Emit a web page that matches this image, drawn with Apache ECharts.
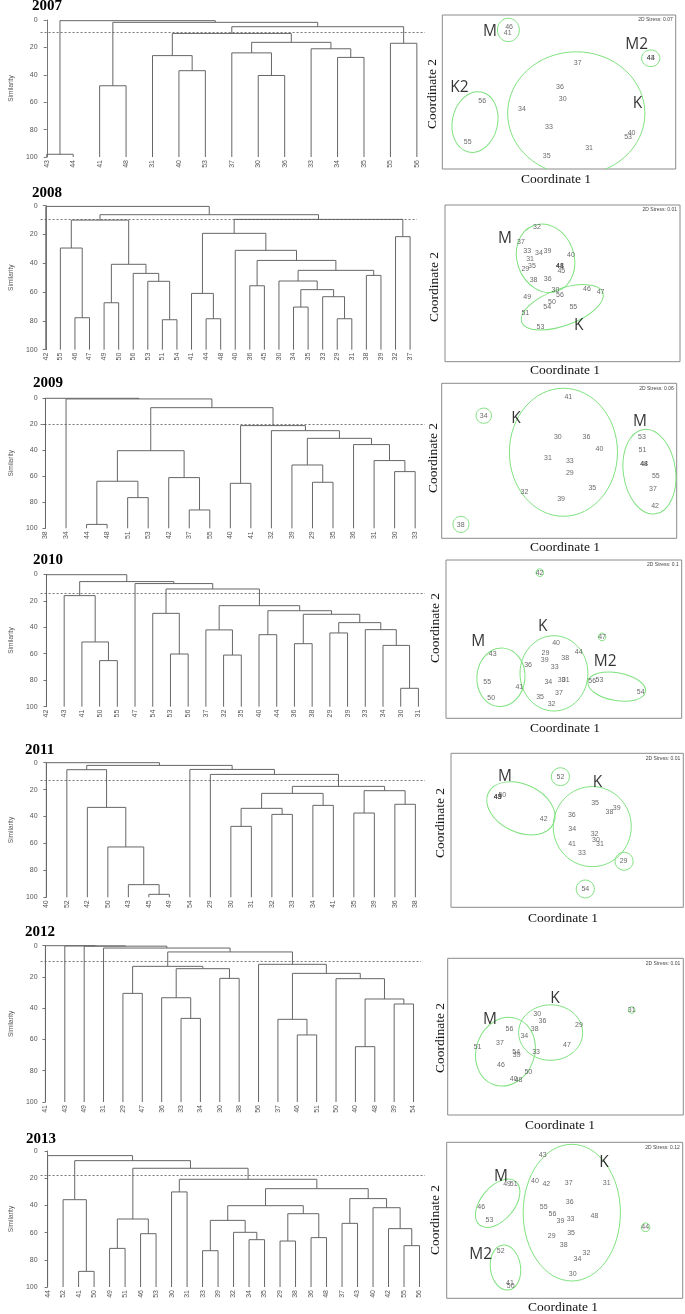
<!DOCTYPE html>
<html><head><meta charset="utf-8">
<script src="https://cdn.jsdelivr.net/npm/echarts@6/dist/echarts.min.js"></script>
<style>html,body{margin:0;padding:0;background:#fff}#c{width:685px;height:1314px}</style>
</head><body><div id="c"></div>
<script>
// ================= DATA =================
const years = ['2007','2008','2009','2010','2011','2012','2013'];
const stressValues = ['0.07','0.01','0.06','0.1','0.01','0.01','0.12'];

// Dendrograms: merges = [childA, childB, similarity]; string = leaf, number = earlier merge index
const leaves2007 = ['43','44','41','48','31','40','53','37','30','36','33','34','35','55','56'];
const merges2007 = [['43','44',98],['41','48',48],['40','53',37],['31',2,26],['30','36',40.5],['37',4,24],['34','35',27.3],['33',6,21],[5,7,16.3],[3,8,9.8],['55','56',17],[9,10,4.9],[1,11,1.7],[0,12,0.5]];
const cut2007 = 9;

const leaves2008 = ['42','55','46','47','49','50','56','53','51','54','41','44','48','40','36','45','30','34','35','33','29','31','38','39','32','37'];
const merges2008 = [['46','47',77.8],['55',0,29.4],['49','50',67.4],['51','54',79.2],['53',3,52.5],['56',4,47],[2,5,40.7],[1,6,10],['44','48',78.5],['41',8,60.9],['36','45',55.6],['29','31',78.5],['33',11,63.2],['34','35',70.4],[13,12,58.3],['30',14,52.3],['38','39',48.4],[15,16,44.9],[10,17,38],['40',18,31],[9,19,19.2],['32','37',21.5],[20,21,9.5],[7,22,6.25],['42',23,0.5]];
const cut2008 = 9.5;

const leaves2009 = ['38','34','44','48','51','53','42','37','55','40','41','32','39','29','35','36','31','30','33'];
const merges2009 = [['44','48',97],['51','53',76.4],[0,1,63.8],['37','55',85.9],['42',3,61],[2,4,40.3],['40','41',65.4],['29','35',64.6],['39',7,51.3],['30','33',56.4],['31',9,47.9],['36',10,35.6],[8,11,30.8],['32',12,24.9],[6,13,21],[5,14,7.2],['34',15,0.5],['38',16,0]];
const cut2009 = 20;

const leaves2010 = ['42','43','41','50','55','47','54','53','56','37','32','35','40','44','36','38','29','39','33','34','30','31'];
const merges2010 = [['50','55',65.2],['41',0,51.1],['43',1,16.1],['53','56',60.2],['54',3,29.5],['32','35',61],['37',5,42],['40','44',45.6],['36','38',52.4],['29','39',44.3],['30','31',86.1],['34',10,53.7],['33',11,41.8],[9,12,36.5],[8,13,30.2],[7,14,27.5],[6,15,23.7],[4,16,11.1],['47',17,7],[2,18,5.5],['42',19,0.3]];
const cut2010 = 14.4;

const leaves2011 = ['40','52','42','50','43','45','49','54','29','30','31','32','33','34','41','35','39','36','38'];
const merges2011 = [['45','49',97.8],['43',0,90.6],['50',1,62.6],['42',2,33.2],['52',3,5.2],['30','31',47.3],['32','33',38.4],[5,6,33.9],['34','41',31.7],[7,8,22.8],['35','39',37.4],['36','38',30.9],[10,11,20.8],[9,12,17.6],['29',13,8.7],['54',14,5],[4,15,2],['40',16,0]];
const cut2011 = 12.9;

const leaves2012 = ['41','43','49','31','29','47','36','33','34','30','38','56','37','46','51','50','40','48','39','54'];
const merges2012 = [['29','47',30.5],['33','34',46.5],['36',1,33.3],['30','38',20.9],[2,3,14.7],[0,4,13.2],['46','51',57.1],['37',6,47.1],['40','48',64.6],['39','54',37.3],[8,9,34.1],['50',10,21.1],[7,11,17.7],['56',12,11.9],[5,13,4],['31',14,1.5],['49',15,0.3],['43',16,0.15],['41',17,0]];
const cut2012 = 10.2;

const leaves2013 = ['44','52','41','50','49','51','46','53','30','31','33','39','32','34','35','29','38','36','48','37','43','40','42','55','56'];
const merges2013 = [['41','50',88.5],['52',0,35.8],['49','51',71.6],['46','53',60.8],[2,3,50],['30','31',30.1],['33','39',73.3],['34','35',65.2],['32',7,59.8],[6,8,51],['29','38',66.2],['36','48',63.7],[10,11,46.1],[9,12,40.2],['37','43',53.2],['55','56',69.6],['42',15,57.1],['40',16,41.7],[14,17,35],[13,18,27.7],[5,19,20.8],[4,20,12.7],[1,21,7.1],['44',22,3.4]];
const cut2013 = 18;

// NMDS ordinations: [label, coord1, coord2]
const points2007 = [['46',28.6,92.0],['41',28.0,88.3],['43',89.3,72.3],['44',89.3,72.3],['37',58.0,68.6],['36',50.4,53.0],['30',51.6,45.2],['34',34.1,38.7],['56',17.1,43.9],['55',10.9,17.3],['33',45.7,27.3],['40',81.1,23.2],['53',79.6,20.8],['31',62.9,13.9],['35',44.7,8.4]];
const points2008 = [['32',39.1,86.0],['37',32.3,76.6],['33',35.0,70.6],['34',40.0,69.1],['39',43.6,70.9],['40',53.6,68.3],['31',36.2,65.5],['35',37.0,61.3],['29',34.2,58.9],['41',48.9,61.3],['44',48.9,61.3],['48',48.9,61.3],['45',49.5,57.7],['38',37.7,52.0],['36',43.7,52.8],['30',47.0,45.9],['56',48.9,42.8],['46',60.4,46.4],['47',66.2,44.5],['49',35.0,41.1],['50',45.5,37.9],['54',43.5,34.9],['55',54.6,34.9],['51',34.2,31.3],['53',40.6,21.9]];
const points2009 = [['41',53.9,91.4],['34',17.9,79.1],['30',49.4,65.4],['36',61.6,65.6],['40',67.1,57.4],['31',45.2,52.0],['33',54.5,49.9],['29',54.5,42.4],['35',64.1,32.7],['32',35.2,30.1],['39',50.8,25.4],['38',8.1,8.8],['53',85.2,65.6],['51',85.4,57.2],['44',86.1,47.7],['48',86.1,47.7],['55',91.1,40.2],['37',89.9,31.6],['42',90.8,21.1]];
const points2010 = [['42',39.7,92.0],['47',66.2,51.4],['40',46.7,47.8],['44',56.3,42.1],['29',42.2,41.5],['39',41.9,36.6],['38',50.6,38.3],['33',46.1,32.6],['43',19.8,40.8],['36',34.8,33.7],['55',17.5,22.7],['41',31.1,19.8],['34',43.4,22.9],['30',49.1,24.0],['31',50.8,24.0],['56',62.0,23.4],['53',65.1,24.0],['54',82.6,16.8],['37',47.9,16.2],['35',39.9,13.3],['50',19.2,13.1],['32',44.8,8.8]];
const points2011 = [['43',20.1,71.4],['45',20.1,71.4],['49',20.1,71.4],['50',22.1,72.9],['42',39.9,57.4],['52',47.1,84.8],['35',62.0,67.5],['38',68.2,61.9],['39',71.3,64.3],['36',52.0,60.2],['34',52.2,51.1],['32',61.8,47.8],['30',62.4,43.7],['31',64.1,41.1],['41',52.1,41.3],['33',56.4,35.1],['29',74.3,29.8],['54',57.8,11.9]];
const points2012 = [['30',38.0,64.7],['36',40.2,60.0],['29',55.7,57.4],['38',36.9,54.7],['56',26.2,55.1],['34',32.5,50.6],['37',22.2,46.2],['51',12.7,43.4],['47',50.6,44.9],['54',29.1,40.4],['39',29.3,38.3],['33',37.5,40.4],['46',22.6,31.9],['50',34.2,27.2],['40',28.0,23.2],['48',30.0,22.6],['31',78.1,67.0]];
const points2013 = [['43',40.7,91.5],['40',37.4,75.2],['42',42.2,73.3],['37',51.7,74.1],['31',67.8,73.7],['49',25.6,73.5],['51',28.4,73.5],['46',14.6,58.5],['53',18.1,50.2],['36',52.1,61.5],['55',41.1,58.8],['56',44.8,53.8],['39',48.2,49.4],['33',52.5,50.9],['48',62.6,52.4],['44',84.1,45.5],['29',44.5,40.0],['35',52.7,42.1],['38',49.6,34.2],['52',22.9,30.5],['32',59.2,28.8],['34',55.4,25.0],['30',53.4,15.4],['41',26.8,9.6],['50',27.1,8.1]];

// Group labels: [name, coord1, coord2]
const groups2007 = [['M',20.4,89.2],['M2',83.3,80.5],['K2',7.3,53.0],['K',83.6,42.6]];
const groups2008 = [['M',25.5,78.3],['K',56.9,23.0]];
const groups2009 = [['K',31.6,77.0],['M',84.4,75.3]];
const groups2010 = [['M',13.7,48.4],['K',41.0,57.9],['M2',67.5,35.6]];
const groups2011 = [['M',23.2,84.8],['K',63.1,81.2]];
const groups2012 = [['K',45.5,74.5],['M',17.9,60.6]];
const groups2013 = [['M',23.0,78.0],['K',66.7,87.2],['M2',14.4,27.8]];

// Group outlines: [centre1, centre2, radius1, radius2, tilt deg]
const ellipses2007 = [[28.3,90.3,4.7,7.6,0],[89.3,71.9,3.9,5.4,0],[14.0,30.5,9.7,19.9,-12],[57.4,36.1,29.4,40.0,0]];
const ellipses2008 = [[42.8,66.0,12.1,22.3,20],[49.9,34.7,18.4,11.7,20]];
const ellipses2009 = [[17.9,79.1,3.3,4.9,0],[8.2,9.0,3.4,5.2,0],[51.8,55.5,23.0,41.3,0],[88.4,43.0,11.1,27.5,8]];
const ellipses2010 = [[23.3,25.9,10.2,18.5,-5],[45.8,28.4,14.4,23.8,0],[72.4,20.0,12.4,8.8,-10],[39.8,92.0,1.6,2.4,0],[66.2,51.4,1.6,2.4,0]];
const ellipses2011 = [[30.1,64.3,15.5,15.6,-25],[60.8,52.4,16.8,26.0,0],[47.1,84.8,3.9,5.8,0],[74.5,29.9,3.9,5.8,0],[57.8,11.9,3.9,5.8,0]];
const ellipses2012 = [[43.7,52.6,13.6,17.7,0],[24.5,40.4,12.4,22.3,-20],[78.1,67.0,1.4,2.1,0]];
const ellipses2013 = [[21.6,60.9,12.0,10.7,50],[24.9,19.7,6.4,14.5,8],[53.0,54.9,20.6,43.8,0],[84.3,45.5,1.8,2.8,0]];

const simTicks = [0,20,40,60,80,100];

// ================= LAYOUT (pixels) =================
const allLeaves = [leaves2007,leaves2008,leaves2009,leaves2010,leaves2011,leaves2012,leaves2013];
const allMerges = [merges2007,merges2008,merges2009,merges2010,merges2011,merges2012,merges2013];
const allCuts = [cut2007,cut2008,cut2009,cut2010,cut2011,cut2012,cut2013];
const allPoints = [points2007,points2008,points2009,points2010,points2011,points2012,points2013];
const allGroups = [groups2007,groups2008,groups2009,groups2010,groups2011,groups2012,groups2013];
const allEllipses = [ellipses2007,ellipses2008,ellipses2009,ellipses2010,ellipses2011,ellipses2012,ellipses2013];

// axisX, yTop, yBottom, firstLeaf, lastLeaf, rightEnd, titleX, titleY
const dendroLayout = [
  [33,20,157,39.3,416.7,425,32,6],
  [34.7,205.7,349.7,40,410,417,32,193],
  [34.3,398.3,528.3,39.3,415,425,33,383],
  [33.3,574.3,706.7,39.3,418.3,425,33,560],
  [25.7,762.7,897.3,31.7,415,425,25,750],
  [28.3,945.7,1102,33.3,413.3,421,25,932],
  [25,1151,1287,32.3,419.3,425,26,1139]
];
// left, top, right, bottom, coord2X, coord2Y, coord1X, coord1Y
const boxLayout = [
  [442.3,15,675.7,169,432,94,556,179],
  [445,205,680,361.7,434,287,565,370],
  [441.7,383.3,676.7,538.3,433,458,565,547],
  [446,560,681.7,718.3,435,628,565,728],
  [451,753.3,683.3,907.3,440,823,563,918],
  [447.7,958.3,683.3,1115,440,1038,560,1125],
  [446.7,1142.3,682.7,1298.3,435,1220,563,1307]
];

function buildLinks(leaves, merges) {
  const pos = {}; leaves.forEach((l, i) => pos[l] = i);
  const nodes = [];
  const get = r => typeof r === 'number' ? nodes[r] : {x: pos[r], y: 100};
  const links = [];
  merges.forEach(m => {
    const a = get(m[0]), b = get(m[1]);
    links.push([a.x, a.y, b.x, b.y, m[2]]);
    nodes.push({x: (a.x + b.x) / 2, y: m[2]});
  });
  return links;
}

function renderLink(params, api) {
  const p0 = api.coord([api.value(0), api.value(1)]);
  const p1 = api.coord([api.value(0), api.value(4)]);
  const p2 = api.coord([api.value(2), api.value(4)]);
  const p3 = api.coord([api.value(2), api.value(3)]);
  return {type: 'polyline', shape: {points: [p0, p1, p2, p3]},
    style: {fill: 'none', stroke: '#666', lineWidth: 1}};
}
function renderEllipse(params, api) {
  const c = api.coord([api.value(0), api.value(1)]);
  const s = api.size([api.value(2), api.value(3)]);
  return {type: 'ellipse', x: c[0], y: c[1], rotation: api.value(4) * Math.PI / 180,
    shape: {cx: 0, cy: 0, rx: s[0], ry: s[1]},
    style: {fill: 'none', stroke: '#7fe27f', lineWidth: 1}};
}

const grid = [], xAxis = [], yAxis = [], series = [], graphic = [];
const serif = '"Liberation Serif","Times New Roman",serif';

years.forEach((yr, k) => {
  const L = dendroLayout[k];
  const leaves = allLeaves[k];
  const n = leaves.length;
  const sp = (L[4] - L[3]) / (n - 1);
  const xmin = -(L[3] - L[0]) / sp;
  const xmax = (n - 1) + (L[5] - L[4]) / sp;
  const gi = grid.length;
  grid.push({left: L[0], top: L[1], width: L[5] - L[0], height: L[2] - L[1], containLabel: false});
  xAxis.push({gridIndex: gi, type: 'value', min: xmin, max: xmax, position: 'bottom',
    axisLine: {show: false}, axisTick: {show: false}, splitLine: {show: false},
    axisLabel: {customValues: leaves.map((_, i) => i), formatter: v => leaves[Math.round(v)],
      rotate: 90, fontSize: 7, color: '#555', margin: 3, fontFamily: 'Liberation Sans'}});
  yAxis.push({gridIndex: gi, type: 'value', inverse: true, min: 0, max: 100, interval: 20,
    axisLine: {show: true, lineStyle: {color: '#777', width: 1}},
    axisTick: {show: true, length: 3, lineStyle: {color: '#777'}},
    axisLabel: {fontSize: 7, color: '#555', margin: 3, fontFamily: 'Liberation Sans',
      formatter: v => simTicks.includes(v) ? String(v) : ''},
    splitLine: {show: false},
    name: 'Similarity', nameLocation: 'middle', nameGap: 18, nameRotate: 90,
    nameTextStyle: {fontSize: 6.5, color: '#555', fontFamily: 'Liberation Sans'}});
  series.push({type: 'custom', xAxisIndex: gi, yAxisIndex: gi, renderItem: renderLink,
    data: buildLinks(leaves, allMerges[k]), silent: true, animation: false,
    markLine: {silent: true, symbol: 'none', animation: false, label: {show: false},
      lineStyle: {type: [2, 2], color: '#555', width: 0.8}, data: [{yAxis: allCuts[k]}]}});
  graphic.push({type: 'text', x: L[6], y: L[7], style: {text: yr, font: 'bold 15px ' + serif,
    fill: '#000', textVerticalAlign: 'middle', verticalAlign: 'middle'}});

  // NMDS
  const B = boxLayout[k];
  const gj = grid.length;
  grid.push({left: B[0], top: B[1], width: B[2] - B[0], height: B[3] - B[1], show: true,
    borderColor: '#8a8a8a', borderWidth: 1, backgroundColor: 'transparent', containLabel: false});
  xAxis.push({gridIndex: gj, type: 'value', min: 0, max: 100, show: false});
  yAxis.push({gridIndex: gj, type: 'value', min: 0, max: 100, show: false});
  series.push({type: 'custom', xAxisIndex: gj, yAxisIndex: gj, renderItem: renderEllipse,
    data: allEllipses[k], clip: true, silent: true, animation: false});
  series.push({type: 'scatter', xAxisIndex: gj, yAxisIndex: gj, symbolSize: 0, silent: true, animation: false,
    data: allPoints[k].map(p => [p[1], p[2], p[0]]),
    label: {show: true, position: 'inside', formatter: p => p.value[2], fontSize: 7, color: '#444',
      fontFamily: 'Liberation Sans'}});
  series.push({type: 'scatter', xAxisIndex: gj, yAxisIndex: gj, symbolSize: 0, silent: true, animation: false,
    data: allGroups[k].map(g => [g[1], g[2], g[0]]),
    label: {show: true, position: 'inside', formatter: p => p.value[2], fontSize: 15.5, color: '#000',
      fontFamily: '"Open Sans", "Noto Sans", sans-serif'}});
  graphic.push({type: 'text', x: B[2] - 3, y: B[1] + 5, style: {text: '2D Stress: ' + stressValues[k],
    font: '5px "Liberation Sans"', fill: '#444', textAlign: 'right', align: 'right',
    textVerticalAlign: 'middle', verticalAlign: 'middle'}});
  graphic.push({type: 'text', x: B[6], y: B[7], style: {text: 'Coordinate 1', font: '13.5px ' + serif,
    fill: '#111', textAlign: 'center', align: 'center', textVerticalAlign: 'middle', verticalAlign: 'middle'}});
  graphic.push({type: 'text', x: B[4], y: B[5], rotation: Math.PI / 2, style: {text: 'Coordinate 2',
    font: '13.5px ' + serif, fill: '#111', textAlign: 'center', align: 'center',
    textVerticalAlign: 'middle', verticalAlign: 'middle'}});
});

const chart = echarts.init(document.getElementById('c'), null, {renderer: 'canvas', width: 685, height: 1314});
chart.setOption({backgroundColor: '#fff', animation: false, grid, xAxis, yAxis, series, graphic});
</script>
</body></html>
